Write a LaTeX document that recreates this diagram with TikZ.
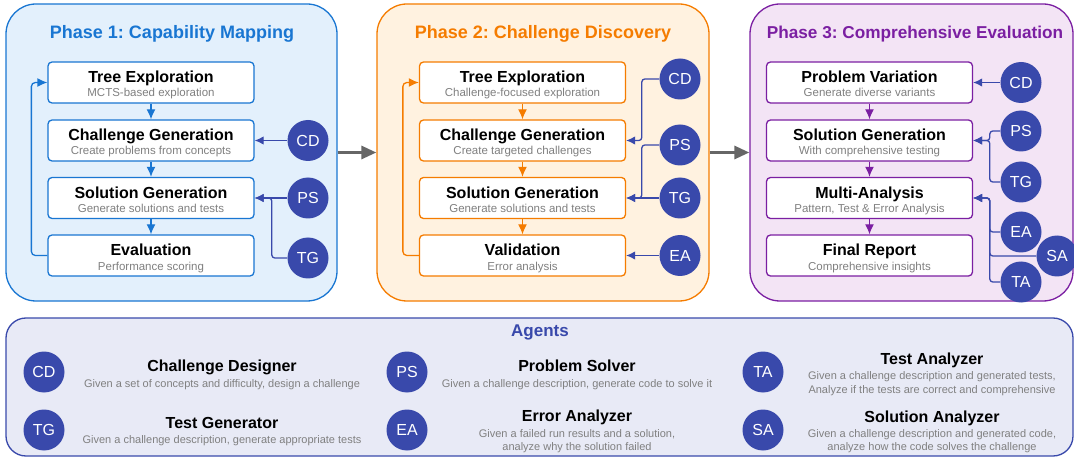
\documentclass[tikz,border=0pt]{standalone}
\usepackage{fontspec}
\setmainfont{Liberation Sans}
\usetikzlibrary{arrows.meta,positioning}
\frenchspacing

\definecolor{pblue}{HTML}{1976D2}
\definecolor{pbluebg}{HTML}{E3F0FC}
\definecolor{porange}{HTML}{F57C00}
\definecolor{porangebg}{HTML}{FFF2E0}
\definecolor{ppurple}{HTML}{7B1FA2}
\definecolor{ppurplebg}{HTML}{F3E4F5}
\definecolor{agentc}{HTML}{3949AB}
\definecolor{agentcbg}{HTML}{E8EAF6}
\definecolor{subgray}{HTML}{808080}
\definecolor{linkgray}{HTML}{666666}

\begin{document}
\begin{tikzpicture}[x=1pt,y=-1pt,
  panel/.style={draw=#1,fill=#1bg,line width=1.3pt,rounded corners=30pt,inner sep=0pt},
  stage/.style={draw=#1,fill=white,line width=1.3pt,rounded corners=4pt,minimum width=206pt,minimum height=41pt,inner sep=0pt},
  phasettl/.style={anchor=base,inner sep=0pt,text=#1,font=\fontsize{18}{20}\selectfont\bfseries},
  ttl/.style={anchor=base,inner sep=0pt,font=\fontsize{16}{18}\selectfont\bfseries},
  sub/.style={anchor=base,inner sep=0pt,text=subgray,font=\fontsize{11.5}{13}\selectfont},
  agent/.style={circle,fill=agentc,text=white,minimum size=41pt,inner sep=0pt,font=\fontsize{16}{18}\selectfont},
  aname/.style={anchor=base,inner sep=0pt,font=\fontsize{16}{18}\selectfont\bfseries},
  adesc/.style={inner sep=0pt,align=center,text=subgray,font=\fontsize{11}{13.5}\selectfont},
  flow/.style={draw=#1,line width=1.3pt,-{Latex[length=10pt,width=9pt]}},
  link/.style={draw=agentc,line width=1.3pt,-{Latex[length=9pt,width=8.5pt]}},
  phaselink/.style={draw=linkgray,line width=3pt,-{Triangle[length=15pt,width=13pt]}}]
\useasboundingbox (0,0) rectangle (1074,457);

% panels
\node[panel=pblue,minimum width=331pt,minimum height=297pt] (ph1) at (171.5,152.5) {};
\node[panel=porange,minimum width=332pt,minimum height=297pt] (ph2) at (543,152.5) {};
\node[panel=ppurple,minimum width=323pt,minimum height=297pt] (ph3) at (911.5,152.5) {};
\node[panel=agentc,rounded corners=20pt,minimum width=1067pt,minimum height=138pt] (agents) at (539.5,387) {};

\node[phasettl=pblue] (ph1t) at (172,39) {Phase 1: Capability Mapping};
\node[phasettl=porange] (ph2t) at (543,39) {Phase 2: Challenge Discovery};
\node[phasettl=ppurple,font=\fontsize{17.2}{19}\selectfont\bfseries] (ph3t) at (915,39) {Phase 3: Comprehensive Evaluation};

\draw[phaselink] (ph1.east) -- (ph2.west);
\draw[phaselink] (ph2.east) -- (ph3.west);

% phase 1
\foreach \n/\y/\t/\s in {a/82.5/Tree Exploration/MCTS-based exploration,
    b/140.5/Challenge Generation/Create problems from concepts,
    c/198/Solution Generation/Generate solutions and tests,
    d/255.5/Evaluation/Performance scoring}{
  \node[stage=pblue] (p1\n) at (151,\y) {};
  \node[ttl] at ([yshift=-0.5pt]p1\n.center) {\t};
  \node[sub] at ([yshift=-14.5pt]p1\n.center) {\s};
}
\draw[flow=pblue] (p1a) -- (p1b);
\draw[flow=pblue] (p1b) -- (p1c);
\draw[flow=pblue] (p1c) -- (p1d);
\draw[flow=pblue] (p1d.west) [rounded corners=4pt] -- ++(-16,0) |- (p1a.west);

\node[agent] (p1cd) at (308,140.5) {CD};
\node[agent] (p1ps) at (308,198) {PS};
\node[agent] (p1tg) at (308,258) {TG};
\draw[link] (p1cd.west) -- (p1b.east);
\draw[link] (p1ps.west) -- (p1c.east);
\draw[link] (p1tg.west) [rounded corners=3pt] -- ++(-15.5,0) |- (p1c.east);

% phase 2
\foreach \n/\y/\t/\s in {a/82.5/Tree Exploration/Challenge-focused exploration,
    b/140.5/Challenge Generation/Create targeted challenges,
    c/198/Solution Generation/Generate solutions and tests,
    d/255.5/Validation/Error analysis}{
  \node[stage=porange] (p2\n) at (522.5,\y) {};
  \node[ttl] at ([yshift=-0.5pt]p2\n.center) {\t};
  \node[sub] at ([yshift=-14.5pt]p2\n.center) {\s};
}
\draw[flow=porange] (p2a) -- (p2b);
\draw[flow=porange] (p2b) -- (p2c);
\draw[flow=porange] (p2c) -- (p2d);
\draw[flow=porange] (p2d.west) [rounded corners=4pt] -- ++(-16,0) |- (p2a.west);

\node[agent] (p2cd) at (680,79) {CD};
\node[agent] (p2ps) at (680,145) {PS};
\node[agent] (p2tg) at (680,198) {TG};
\node[agent] (p2ea) at (680,255.5) {EA};
\draw[link] (p2cd.west) [rounded corners=3pt] -- ++(-17.5,0) |- (p2b.east);
\draw[link] (p2ps.west) [rounded corners=3pt] -- ++(-17.5,0) |- (p2c.east);
\draw[link] (p2tg.west) -- (p2c.east);
\draw[link] (p2ea.west) -- (p2d.east);

% phase 3
\foreach \n/\y/\t/\s in {a/82.5/Problem Variation/Generate diverse variants,
    b/140.5/Solution Generation/With comprehensive testing,
    c/198/Multi-Analysis/{Pattern, Test \& Error Analysis},
    d/255.5/Final Report/Comprehensive insights}{
  \node[stage=ppurple] (p3\n) at (869.5,\y) {};
  \node[ttl] at ([yshift=-0.5pt]p3\n.center) {\t};
  \node[sub] at ([yshift=-14.5pt]p3\n.center) {\s};
}
\draw[flow=ppurple] (p3a) -- (p3b);
\draw[flow=ppurple] (p3b) -- (p3c);
\draw[flow=ppurple] (p3c) -- (p3d);

\node[agent] (p3cd) at (1021,82.5) {CD};
\node[agent] (p3ps) at (1021,131) {PS};
\node[agent] (p3tg) at (1021,182) {TG};
\node[agent] (p3ea) at (1021,232) {EA};
\node[agent] (p3sa) at (1057,256) {SA};
\node[agent] (p3ta) at (1021,282) {TA};
\draw[link] (p3cd.west) -- (p3a.east);
\draw[link] (p3ps.west) [rounded corners=3pt] -- ++(-10.5,0) |- (p3b.east);
\draw[link] (p3tg.west) [rounded corners=3pt] -- ++(-10.5,0) |- (p3b.east);
\draw[link] (p3ea.west) [rounded corners=3pt] -- ++(-10.5,0) |- (p3c.east);
\draw[link] (p3sa.west) [rounded corners=3pt] -- ++(-46.5,0) |- (p3c.east);
\draw[link] (p3ta.west) [rounded corners=3pt] -- ++(-10.5,0) |- (p3c.east);

% agents legend
\node[anchor=base,inner sep=0pt,text=agentc,font=\fontsize{17}{19}\selectfont\bfseries] (agentst) at (540,336) {Agents};

\node[agent] (acd) at (44,372) {CD};
\node[aname] (acdn) at (222,371) {Challenge Designer};
\node[adesc,anchor=base] (acdd) at (222,387) {Given a set of concepts and difficulty, design a challenge};

\node[agent] (atg) at (44,430) {TG};
\node[aname] (atgn) at (222,428) {Test Generator};
\node[adesc,anchor=base] (atgd) at (222,443) {Given a challenge description, generate appropriate tests};

\node[agent] (aps) at (407,372) {PS};
\node[aname] (apsn) at (577,371) {Problem Solver};
\node[adesc,anchor=base] (apsd) at (577,387) {Given a challenge description, generate code to solve it};

\node[agent] (aea) at (407,430) {EA};
\node[aname] (aean) at (577,421) {Error Analyzer};
\node[adesc] (aead) at (577,441) {Given a failed run results and a solution,\\analyze why the solution failed};

\node[agent] (ata) at (763,372) {TA};
\node[aname] (atan) at (932,364) {Test Analyzer};
\node[adesc] (atad) at (932,383.5) {Given a challenge description and generated tests,\\Analyze if the tests are correct and comprehensive};

\node[agent] (asa) at (763,430) {SA};
\node[aname] (asan) at (932,422) {Solution Analyzer};
\node[adesc] (asad) at (932,441) {Given a challenge description and generated code,\\analyze how the code solves the challenge};
\end{tikzpicture}
\end{document}
